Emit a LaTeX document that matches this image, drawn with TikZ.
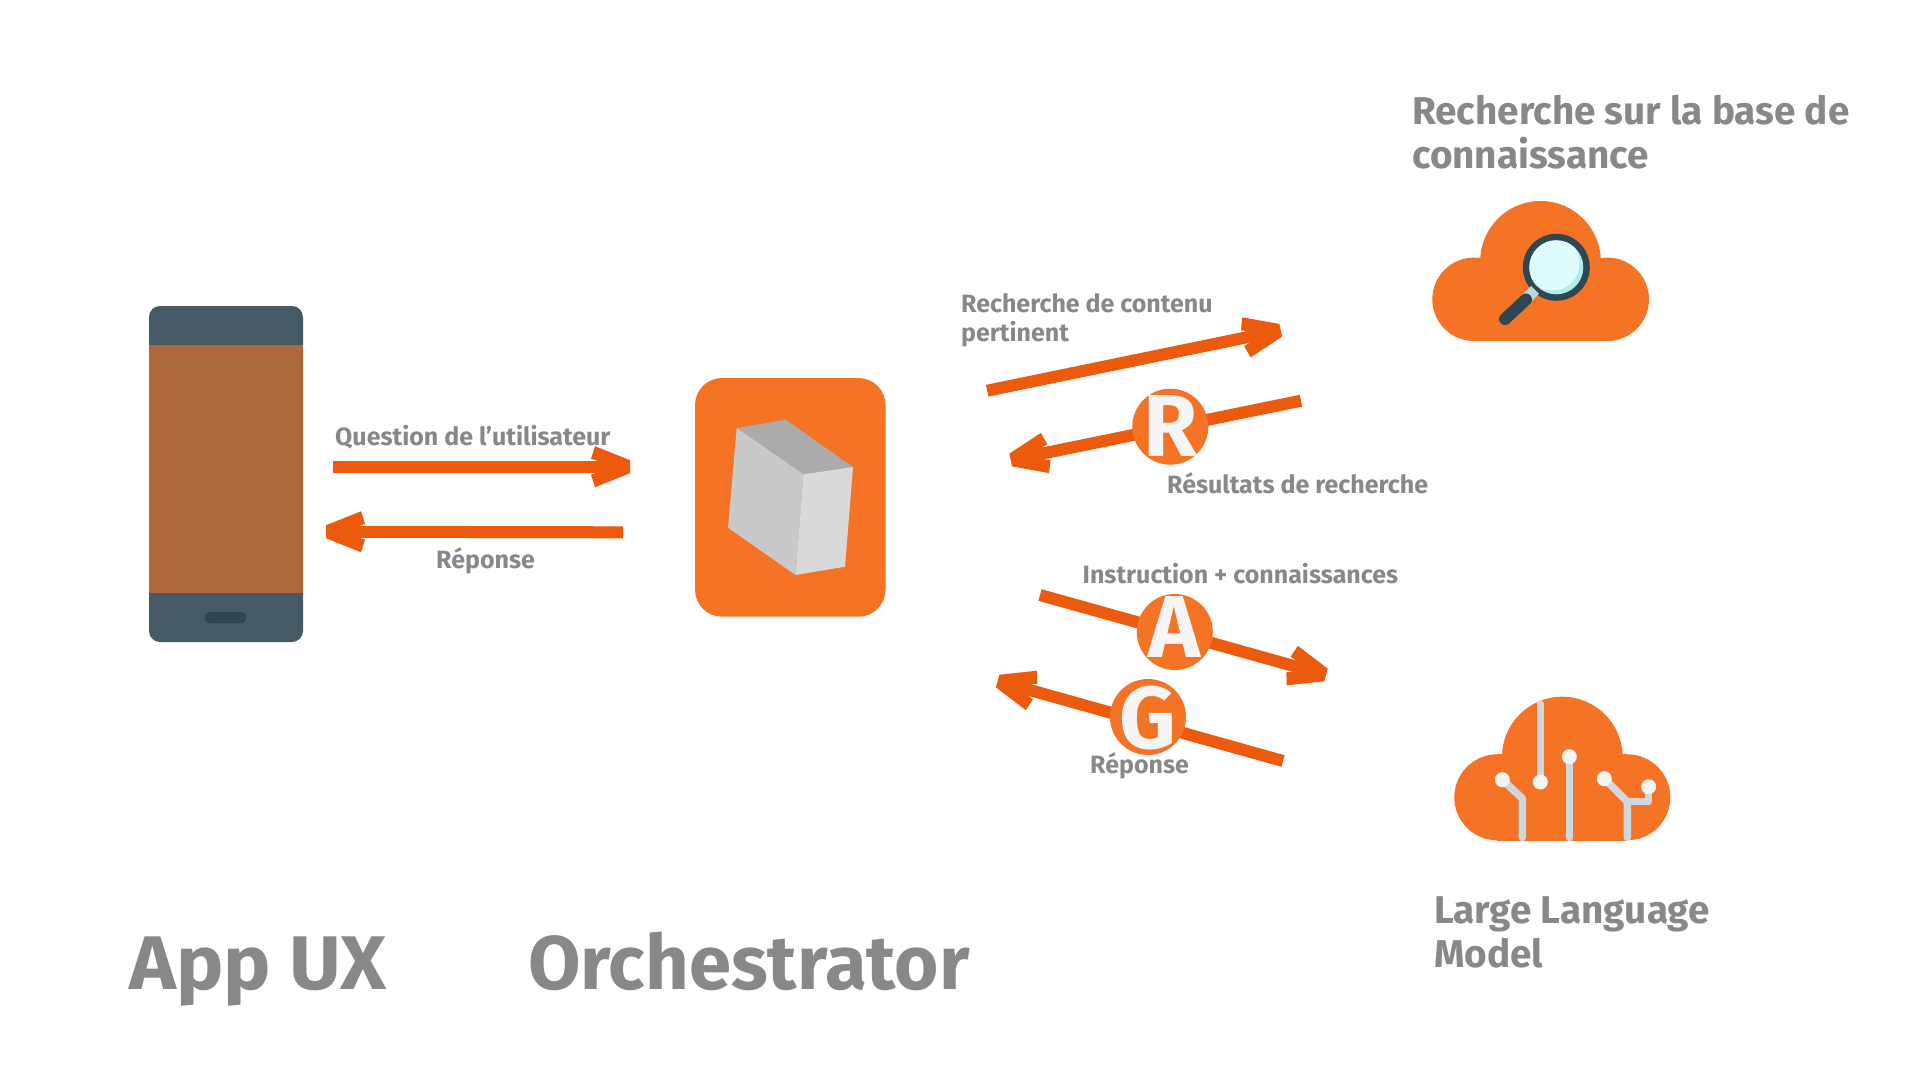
\documentclass[tikz,border=0pt]{standalone}
\usepackage{fontspec}
\setmainfont{Fira Sans}
\usetikzlibrary{arrows.meta}
\definecolor{orangeA}{HTML}{F57324}
\definecolor{orangeB}{HTML}{EC5A0D}
\definecolor{txtgray}{HTML}{888888}
\definecolor{phonedark}{HTML}{455A64}
\definecolor{phonescreen}{HTML}{AE673C}
\definecolor{deep}{HTML}{2F4753}
\definecolor{wire}{HTML}{CFD8DC}
\definecolor{pin}{HTML}{F5F5F5}
\definecolor{glass}{HTML}{DFFCFD}
\definecolor{glassdark}{HTML}{B0EDEE}
\definecolor{collar}{HTML}{B5D8DB}
\pgfdeclarearrow{
  name=Chev,
  setup code={\pgfarrowssettipend{0pt}\pgfarrowssetbackend{-39pt}\pgfarrowssetlineend{-20pt}\pgfarrowssetvisualbackend{-20pt}},
  drawing code={
    \pgfpathmoveto{\pgfpoint{0pt}{6.5pt}}
    \pgfpathlineto{\pgfpoint{-35pt}{20.5pt}}
    \pgfpathlineto{\pgfpoint{-39pt}{8pt}}
    \pgfpathlineto{\pgfpoint{-33pt}{6pt}}
    \pgfpathlineto{\pgfpoint{-33pt}{-6pt}}
    \pgfpathlineto{\pgfpoint{-39pt}{-8pt}}
    \pgfpathlineto{\pgfpoint{-35pt}{-20.5pt}}
    \pgfpathlineto{\pgfpoint{0pt}{-6.5pt}}
    \pgfpathclose\pgfusepathqfill
  }
}
\newcommand{\twoline}[3]{\vtop{\baselineskip=#3pt\hbox{#1}\hbox{#2}}}
\tikzset{
  link/.style={color=orangeB,line width=12pt,-Chev},
  txt/.style={inner sep=0pt,anchor=base west,text=txtgray,font=\bfseries},
  small/.style={txt,font=\bfseries\fontsize{25}{25}\selectfont},
  medium/.style={txt,font=\bfseries\fontsize{38.7}{38.7}\selectfont},
  big/.style={txt,font=\bfseries\fontsize{76}{76}\selectfont},
  badge/.style={circle,fill=orangeA,minimum size=76pt,inner sep=0pt},
  letter/.style={inner sep=0pt,text=pin,font=\bfseries\fontsize{88}{88}\selectfont},
  wireline/.style={draw=wire,line width=7.5pt,line cap=round,line join=round},
  pinhead/.style={circle,fill=pin,minimum size=15pt,inner sep=0pt},
}
\begin{document}
\begin{tikzpicture}[x=1pt,y=-1pt]
\useasboundingbox (0,0) rectangle (1920,1080);
\fill[white] (0,0) rectangle (1920,1080);
% phone
\fill[phonedark,rounded corners=11pt] (149,306) rectangle (303,642);
\fill[phonescreen] (149,345) rectangle (303,593);
\fill[deep,rounded corners=4pt] (205,612) rectangle (246,623);
% orchestrator box
\fill[orangeA,rounded corners=27pt] (695,378) rectangle (885.5,616.7);
\fill[black!33] (736.7,428) -- (785.7,419.7) -- (853,467) -- (803.4,474.3) -- cycle;
\fill[black!21] (736.7,428) -- (803.4,474.3) -- (795.5,575) -- (728,527.7) -- cycle;
\fill[black!15] (803.4,474.3) -- (853,467) -- (845,566.7) -- (795.5,575) -- cycle;
% connector ends
\coordinate (qA) at (333,466.7);   \coordinate (qB) at (630,466.7);
\coordinate (rA) at (623,532.3);   \coordinate (rB) at (326,531.7);
\coordinate (sA) at (987.2,390.7); \coordinate (sB) at (1280.7,330.3);
\coordinate (tA) at (1301,400.7);  \coordinate (tB) at (1010.7,460);
\coordinate (uA) at (1040,595);    \coordinate (uB) at (1326,675);
\coordinate (vA) at (1283,761);    \coordinate (vB) at (997.6,681);
\draw[link] (qA) -- (qB);
\draw[link] (rA) -- (rB);
\draw[link] (sA) -- (sB);
\draw[link] (tA) -- (tB);
\draw[link] (uA) -- (uB);
\draw[link] (vA) -- (vB);
% badges
\node[badge] (R) at (1170.3,426.7) {};
\node[badge] (A) at (1174.8,632) {};
\node[badge] (G) at (1148,717) {};
\node[letter] (Rl) at (1170.3,426) {R};
\node[letter] (Al) at (1174.8,627) {A};
\node[letter] (Gl) at (1148,717.5) {G};
% search cloud
\fill[orangeA] (1540.5,261.3) circle (60.3);
\fill[orangeA] (1474,299.3) circle (41.7);
\fill[orangeA] (1607.3,299.3) circle (41.7);
\fill[orangeA] (1474,257.6) rectangle (1607.3,341);
\fill[deep] (1556.3,267.3) circle (33.5);
\fill[glassdark] (1556.3,267.3) circle (27);
\begin{scope}
\clip (1556.3,267.3) circle (27);
\fill[glass] (1552.5,263.5) circle (27);
\end{scope}
\draw[draw=collar,line width=11pt] (1526,299) -- (1535,290);
\draw[deep,line width=12pt,line cap=round] (1505,319) -- (1526,299.5);
% llm cloud
\fill[orangeA] (1562.3,757) circle (60.3);
\fill[orangeA] (1497.3,797.3) circle (43);
\fill[orangeA] (1627.3,797.3) circle (43);
\fill[orangeA] (1497.3,754) rectangle (1627.3,840.7);
\coordinate (p1) at (1502.3,779.7);
\coordinate (p2) at (1540.3,782);
\coordinate (p3) at (1569.3,756.7);
\coordinate (p4) at (1604.3,778.7);
\coordinate (p5) at (1648.7,786.7);
\coordinate (w1) at (1522.3,798.3); \coordinate (w1e) at (1522.3,837.5);
\coordinate (w2s) at (1540.3,704);
\coordinate (w3e) at (1569.3,837.5);
\coordinate (w4) at (1627.3,801.7); \coordinate (w4e) at (1627.3,837.5);
\coordinate (w5) at (1648.7,801.7);
\draw[wireline] (p1) -- (w1) -- (w1e);
\draw[wireline] (w2s) -- (p2);
\draw[wireline] (p3) -- (w3e);
\draw[wireline] (p4) -- (w4) -- (w4e);
\draw[wireline] (w4) -- (w5) -- (p5);
\node[pinhead] (n1) at (p1) {};
\node[pinhead] (n2) at (p2) {};
\node[pinhead] (n3) at (p3) {};
\node[pinhead] (n4) at (p4) {};
\node[pinhead] (n5) at (p5) {};
% labels
\node[small] (l1) at (335,445) {Question de l’utilisateur};
\node[small] (l2) at (436,568) {Réponse};
\node[small] (l3) at (961,312.7) {\twoline{Recherche de contenu}{pertinent}{28.5}};
\node[small] (l4) at (1167,493.3) {Résultats de recherche};
\node[small] (l5) at (1082.5,583.3) {Instruction + connaissances};
\node[small] (l6) at (1090,773) {Réponse};
\node[medium] (l7) at (1412,124) {\twoline{Recherche sur la base de}{connaissance}{44.3}};
\node[medium] (l8) at (1434,923.3) {\twoline{Large Language}{Model}{44}};
\node[big] (l9) at (129,989) {\scalebox{1.045}[1]{App UX}};
\node[big] (l10) at (528,989) {Orchestrator};
\end{tikzpicture}
\end{document}
